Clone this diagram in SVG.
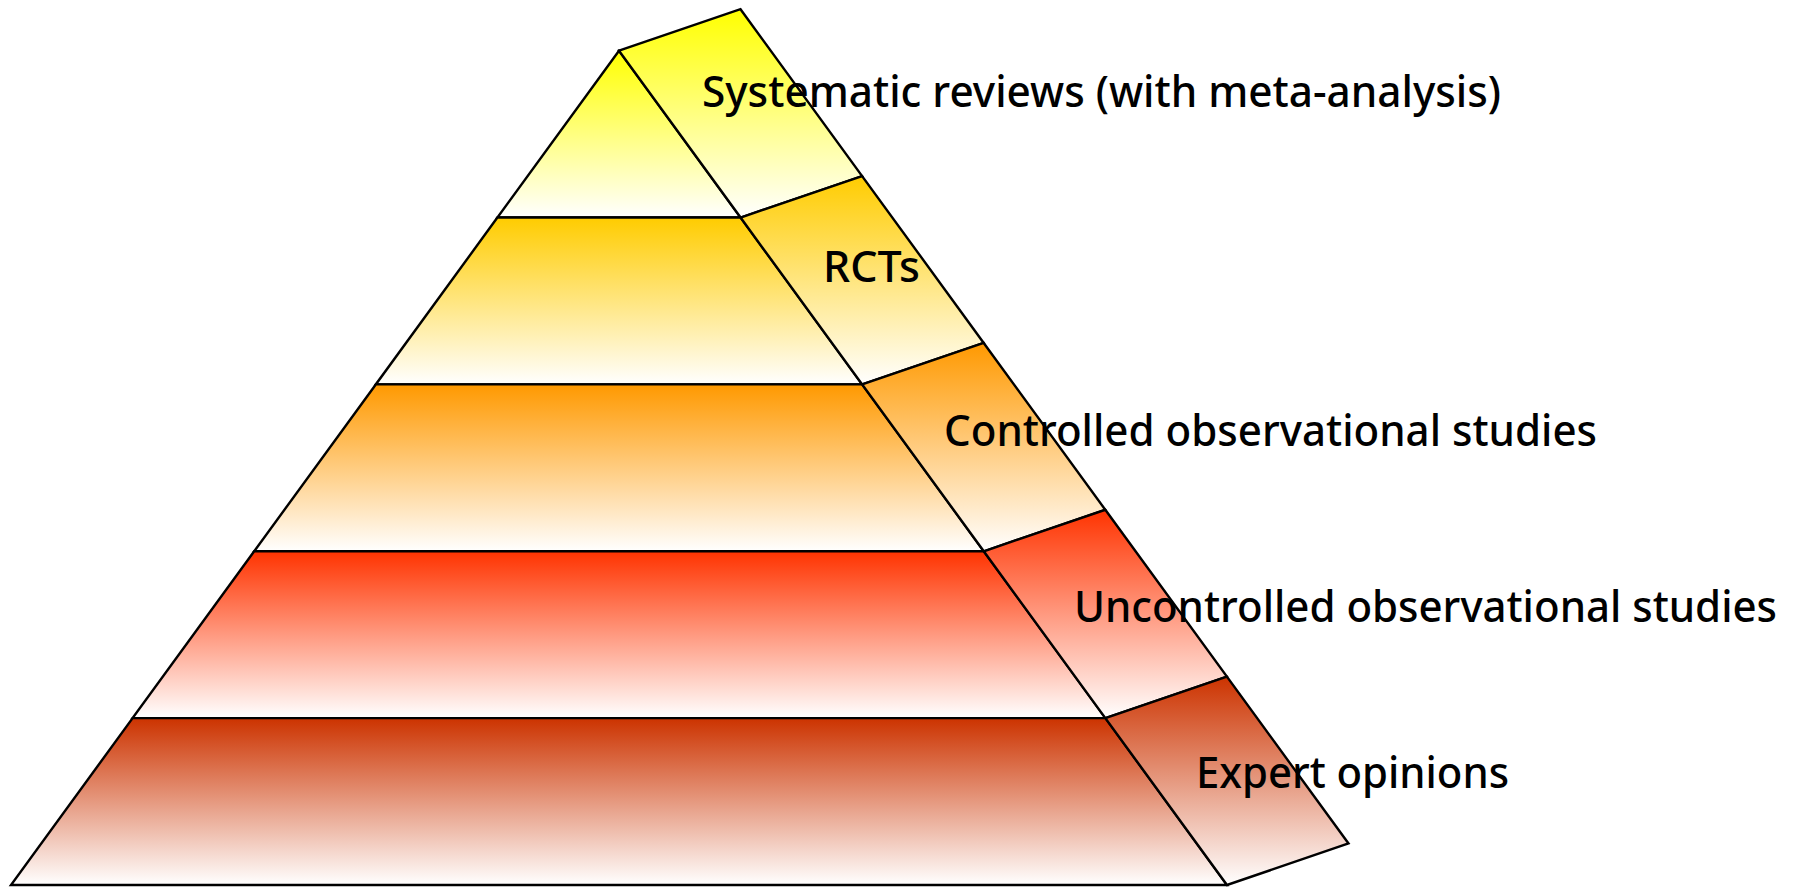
<svg xmlns="http://www.w3.org/2000/svg" width="1798" height="887" viewBox="0 0 1798 887">
<style>
.f{stroke:#000;stroke-width:2.4;stroke-linejoin:miter}
.t{font-family:"Noto Sans","Open Sans",sans-serif;font-size:44px;font-weight:500;fill:#000}
</style>
<defs>
<linearGradient id="g0" x1="0" y1="0" x2="0" y2="1"><stop offset="0" stop-color="#ffff00"/><stop offset="1" stop-color="#ffffff"/></linearGradient>
<linearGradient id="g1" x1="0" y1="0" x2="0" y2="1"><stop offset="0" stop-color="#ffcc00"/><stop offset="1" stop-color="#ffffff"/></linearGradient>
<linearGradient id="g2" x1="0" y1="0" x2="0" y2="1"><stop offset="0" stop-color="#ff9900"/><stop offset="1" stop-color="#ffffff"/></linearGradient>
<linearGradient id="g3" x1="0" y1="0" x2="0" y2="1"><stop offset="0" stop-color="#ff3300"/><stop offset="1" stop-color="#ffffff"/></linearGradient>
<linearGradient id="g4" x1="0" y1="0" x2="0" y2="1"><stop offset="0" stop-color="#cc3300"/><stop offset="1" stop-color="#ffffff"/></linearGradient>
</defs>
<g id="level1">
<polygon class="f" fill="url(#g0)" points="619,50.7 497.4,217.56 740.6,217.56"/>
<polygon class="f" fill="url(#g0)" points="619,50.7 740.5,9.2 862.1,176.06 740.6,217.56"/>
</g>
<g id="level2">
<polygon class="f" fill="url(#g1)" points="497.4,217.56 740.6,217.56 862.2,384.42 375.8,384.42"/>
<polygon class="f" fill="url(#g1)" points="740.6,217.56 862.1,176.06 983.7,342.92 862.2,384.42"/>
</g>
<g id="level3">
<polygon class="f" fill="url(#g2)" points="375.8,384.42 862.2,384.42 983.8,551.28 254.2,551.28"/>
<polygon class="f" fill="url(#g2)" points="862.2,384.42 983.7,342.92 1105.3,509.78 983.8,551.28"/>
</g>
<g id="level4">
<polygon class="f" fill="url(#g3)" points="254.2,551.28 983.8,551.28 1105.4,718.14 132.6,718.14"/>
<polygon class="f" fill="url(#g3)" points="983.8,551.28 1105.3,509.78 1226.9,676.64 1105.4,718.14"/>
</g>
<g id="level5">
<polygon class="f" fill="url(#g4)" points="132.6,718.14 1105.4,718.14 1227,885 11,885"/>
<polygon class="f" fill="url(#g4)" points="1105.4,718.14 1226.9,676.64 1348.5,843.5 1227,885"/>
</g>
<g id="labels">
<text class="t" x="702" y="107" textLength="799" lengthAdjust="spacingAndGlyphs">Systematic reviews (with meta-analysis)</text>
<text class="t" x="823" y="282" textLength="97" lengthAdjust="spacingAndGlyphs">RCTs</text>
<text class="t" x="944" y="446" textLength="653" lengthAdjust="spacingAndGlyphs">Controlled observational studies</text>
<text class="t" x="1074" y="622" textLength="703" lengthAdjust="spacingAndGlyphs">Uncontrolled observational studies</text>
<text class="t" x="1196" y="788" textLength="313" lengthAdjust="spacingAndGlyphs">Expert opinions</text>
</g>
</svg>
